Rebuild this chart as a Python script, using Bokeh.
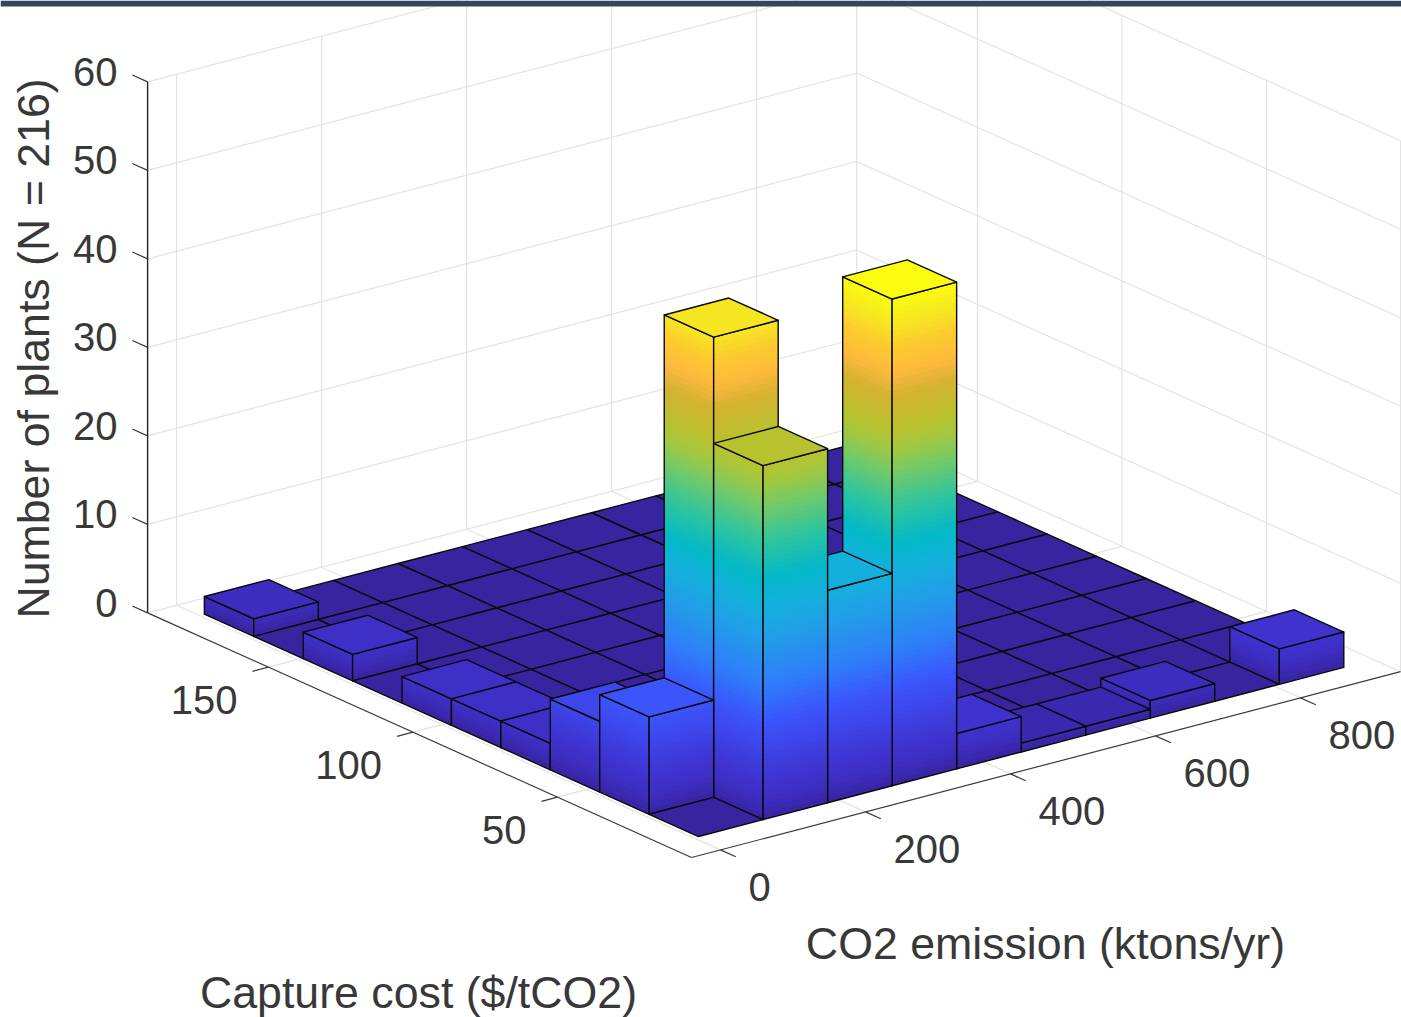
from bokeh.plotting import figure
from bokeh.models import ColumnDataSource, Range1d
from bokeh.core.properties import value
from bokeh.embed import file_html
from bokeh.resources import INLINE

# ---- data: number of plants per histogram cell (cost bin j, emission bin i)
x_ticks = [0, 200, 400, 600, 800]
y_ticks = [50, 100, 150]
z_ticks = [0, 10, 20, 30, 40, 50, 60]
x_label = "CO2 emission (ktons/yr)"
y_label = "Capture cost ($/tCO2)"
z_label = "Number of plants (N = 216)"
counts_row0 = [0, 40, 24, 55, 4, 1, 1, 2, 0, 4]
counts_row1 = [11, 52, 0, 0, 0, 0, 0, 0, 0, 0]
counts_row2 = [8, 0, 0, 0, 0, 0, 0, 0, 0, 0]
counts_row3 = [3, 0, 0, 0, 0, 0, 0, 0, 0, 0]
counts_row4 = [3, 0, 0, 0, 0, 0, 0, 0, 0, 0]
counts_row5 = [3, 0, 0, 0, 0, 0, 0, 0, 0, 0]
counts_row6 = [0, 0, 0, 0, 0, 0, 0, 0, 0, 0]
counts_row7 = [3, 0, 0, 0, 0, 0, 0, 0, 0, 0]
counts_row8 = [0, 0, 0, 0, 0, 0, 0, 0, 0, 0]
counts_row9 = [2, 0, 0, 0, 0, 0, 0, 0, 0, 0]
counts = [counts_row0, counts_row1, counts_row2, counts_row3, counts_row4,
          counts_row5, counts_row6, counts_row7, counts_row8, counts_row9]

# ---- 3D box and bins, in data units
X_MIN, X_MAX = -40.0, 938.0
Y_MIN, Y_MAX = 3.6, 191.8
Z_MAX = 60.0
BIN_X0, BIN_W = 6.8, 89.0
BIN_Y0, BIN_H = 12.9, 17.1

# ---- orthographic projection to the canvas
ORIGIN = (691.0, 857.0)
EX = (0.725, -0.19)
EY = (-2.89, -1.30)
EZ = -8.85


def proj(x, y, z=0.0):
    a, b = x - X_MIN, y - Y_MIN
    return (ORIGIN[0] + a * EX[0] + b * EY[0],
            ORIGIN[1] + a * EX[1] + b * EY[1] + z * EZ)


STOPS = [(0, "#38249f"), (2, "#3d2dbf"), (4, "#3f32cf"), (8, "#3d46ea"), (11, "#3b55fb"),
         (15, "#2f7cfa"), (20, "#239ce8"), (24, "#14b0dc"), (27, "#03b8c8"),
         (31, "#2cc4a0"), (35, "#6fca6c"), (38, "#a2c840"), (40, "#b8c22e"),
         (44, "#d6b232"), (46.5, "#fdb93c"), (49.5, "#fccb2e"), (52, "#f6e622"), (55, "#fbfc0e")]


def color(z):
    z = min(max(z, 0), 55)
    for (z0, c0), (z1, c1) in zip(STOPS, STOPS[1:]):
        if z <= z1:
            t = (z - z0) / (z1 - z0)
            rgb = [round(int(c0[k:k+2], 16) * (1 - t) + int(c1[k:k+2], 16) * t) for k in (1, 3, 5)]
            return "#%02x%02x%02x" % tuple(rgb)
    return STOPS[-1][1]


p = figure(width=1401, height=1017, output_backend="svg", toolbar_location=None,
           x_range=Range1d(0, 1401), y_range=Range1d(1017, 0),
           x_axis_type=None, y_axis_type=None, min_border=0,
           outline_line_color=None, background_fill_color="white")
p.xgrid.visible = False
p.ygrid.visible = False

# ---- walls and floor grid
GRID = "#e3e3e3"
def seg(a, b, color_, width=1.2):
    p.line([a[0], b[0]], [a[1], b[1]], line_color=color_, line_width=width)

for z in z_ticks:
    seg(proj(X_MIN, Y_MAX, z), proj(X_MAX, Y_MAX, z), GRID)
    seg(proj(X_MAX, Y_MAX, z), proj(X_MAX, Y_MIN, z), GRID)
for x in x_ticks:
    seg(proj(x, Y_MIN), proj(x, Y_MAX), GRID)
    seg(proj(x, Y_MAX), proj(x, Y_MAX, Z_MAX), GRID)
for y in y_ticks:
    seg(proj(X_MIN, y), proj(X_MAX, y), GRID)
    seg(proj(X_MAX, y), proj(X_MAX, y, Z_MAX), GRID)
seg(proj(X_MAX, Y_MAX), proj(X_MAX, Y_MAX, Z_MAX), GRID)
seg(proj(X_MAX, Y_MIN), proj(X_MAX, Y_MIN, Z_MAX), GRID)

# ---- axes
AX = "#3a3a3a"
seg(proj(X_MIN, Y_MIN), proj(X_MAX, Y_MIN), AX, 1.2)
seg(proj(X_MIN, Y_MIN), proj(X_MIN, Y_MAX), AX, 1.2)
seg(proj(X_MIN, Y_MAX), proj(X_MIN, Y_MAX, Z_MAX), "#262626", 1.4)
for x in x_ticks:
    seg(proj(x, Y_MIN), proj(x, Y_MIN - 5.3), AX, 1.2)
for y in y_ticks:
    seg(proj(X_MIN, y), proj(X_MIN - 22, y), AX, 1.2)
for z in z_ticks:
    seg(proj(X_MIN, Y_MAX, z), proj(X_MIN, Y_MAX + 5.3, z), AX, 1.2)

# ---- bars, painted back to front
fx, fy, fc, la = [], [], [], []
BAND = 55 / 90


def add(pts, fill=None, outline=False):
    fx.append([q[0] for q in pts])
    fy.append([q[1] for q in pts])
    fc.append(fill if fill else "black")
    la.append(1.0 if outline else 0.0)


cells = sorted(((i, j) for j in range(10) for i in range(10)), key=lambda c: -(c[0] + c[1]))
fill_alpha = []
for i, j in cells:
    h = counts[j][i]
    x0, x1 = BIN_X0 + i * BIN_W, BIN_X0 + (i + 1) * BIN_W
    y0, y1 = BIN_Y0 + j * BIN_H, BIN_Y0 + (j + 1) * BIN_H
    faces = [((x0, y1), (x0, y0)), ((x0, y0), (x1, y0))]
    if h > 0:
        for a, b in faces:
            z = 0.0
            while z < h:
                top = min(z + 1.6 * BAND, h)
                add([proj(*a, z), proj(*b, z), proj(*b, top), proj(*a, top)], color(z + BAND / 2))
                fill_alpha.append(1.0)
                z += BAND
            add([proj(*a, 0), proj(*b, 0), proj(*b, h), proj(*a, h)], None, True)
            fill_alpha.append(0.0)
    add([proj(x0, y0, h), proj(x1, y0, h), proj(x1, y1, h), proj(x0, y1, h)], color(h), True)
    fill_alpha.append(1.0)

src = ColumnDataSource(dict(xs=fx, ys=fy, fc=fc, la=la, fa=fill_alpha))
p.patches("xs", "ys", source=src, fill_color="fc", fill_alpha="fa",
          line_color="#0a0a0a", line_alpha="la", line_width=1.4, line_join="round")

# ---- header band of the page
p.quad(left=[0], right=[1401], top=[0], bottom=[6], fill_color="#34465e", line_color=None)

# ---- texts
FONT = value("Liberation Sans")
TXT = "#383838"
def label(x, y, s, size, align="center", angle=0.0):
    p.text([x], [y], text=[s], text_font=FONT, text_font_size=size, text_color=TXT,
           text_align=align, text_baseline="middle", angle=angle)

for x in x_ticks:
    q = proj(x, Y_MIN)
    label(q[0] + 28, q[1] + 37.5, str(x), "40px", "left")
for y in y_ticks:
    q = proj(X_MIN, y)
    label(q[0] - 31, q[1] + 33, str(y), "40px", "right")
for z in z_ticks:
    q = proj(X_MIN, Y_MAX, z)
    label(q[0] - 30, q[1] - 10, str(z), "40px", "right")
label(1045, 943, x_label, "44.7px")
label(418, 992, y_label, "44.7px")
label(33, 348, z_label, "44.7px", "center", 1.5708)

open("out.html", "w").write(file_html(p, INLINE))
